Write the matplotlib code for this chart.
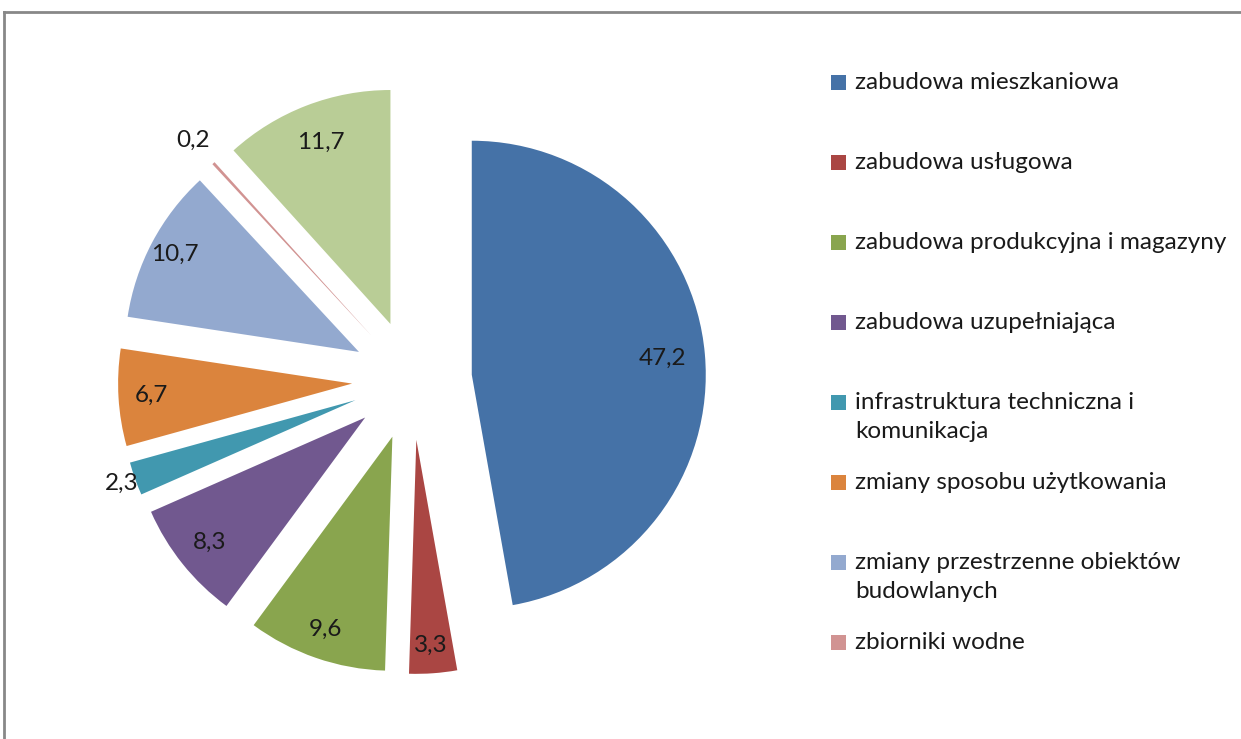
import matplotlib
matplotlib.use("Agg")
import matplotlib.pyplot as plt
from matplotlib.patches import Rectangle
from matplotlib.lines import Line2D
import numpy as np

# ---- data ----
categories = [
    "zabudowa mieszkaniowa",
    "zabudowa usługowa",
    "zabudowa produkcyjna i magazyny",
    "zabudowa uzupełniająca",
    "infrastruktura techniczna i\nkomunikacja",
    "zmiany sposobu użytkowania",
    "zmiany przestrzenne obiektów\nbudowlanych",
    "zbiorniki wodne",
    "inne",
]
values = [47.2, 3.3, 9.6, 8.3, 2.3, 6.7, 10.7, 0.2, 11.7]
value_labels = ["47,2", "3,3", "9,6", "8,3", "2,3", "6,7", "10,7", "0,2", "11,7"]
legend_count = 8  # legend in the reference shows the first 8 entries

# ---- style ----
colors = ["#4572A7", "#AA4643", "#89A54E", "#71588F", "#4198AF",
          "#DB843D", "#93A9CF", "#D19392", "#B9CD96"]
label_dist = [0.82, 0.88, 0.87, 0.85, 1.06, 0.86, 0.89, 1.13, 0.83]
FONT = "Lato"
FS = 17.5

W, H = 1241, 739
fig = plt.figure(figsize=(W / 100, H / 100), dpi=100)
ax = fig.add_axes([0, 0, 1, 1])

cx, cy, R, expl = 412, H - 380, 234, 60
wedges, _ = ax.pie(values, colors=colors, startangle=90, counterclock=False,
                   explode=[expl] * len(values), radius=R, center=(cx, cy),
                   wedgeprops=dict(linewidth=0), frame=False)

for w, lab, d in zip(wedges, value_labels, label_dist):
    th = np.deg2rad((w.theta1 + w.theta2) / 2)
    x0, y0 = w.center
    ax.text(x0 + d * w.r * np.cos(th), y0 + d * w.r * np.sin(th), lab,
            ha="center", va="center", fontsize=FS, family=FONT, color="#1a1a1a")

# ---- legend (Excel-like fixed slots) ----
ly0, lstep = 82, 80
for i in range(legend_count):
    yc = H - (ly0 + i * lstep)
    ax.add_patch(Rectangle((831, yc - 7.5), 15, 15, facecolor=colors[i],
                           edgecolor="none"))
    ax.text(855, yc + 10, categories[i], ha="left", va="top", fontsize=FS,
            family=FONT, color="#1a1a1a", linespacing=1.5)

# ---- outer frame ----
ax.add_line(Line2D([4, W + 10], [H - 12, H - 12], color="#888888", lw=2))
ax.add_line(Line2D([4, 4], [H - 12, -10], color="#888888", lw=2))

ax.set_xlim(0, W)
ax.set_ylim(0, H)
ax.set_aspect("auto")
ax.axis("off")
fig.savefig("out.png", dpi=100)
